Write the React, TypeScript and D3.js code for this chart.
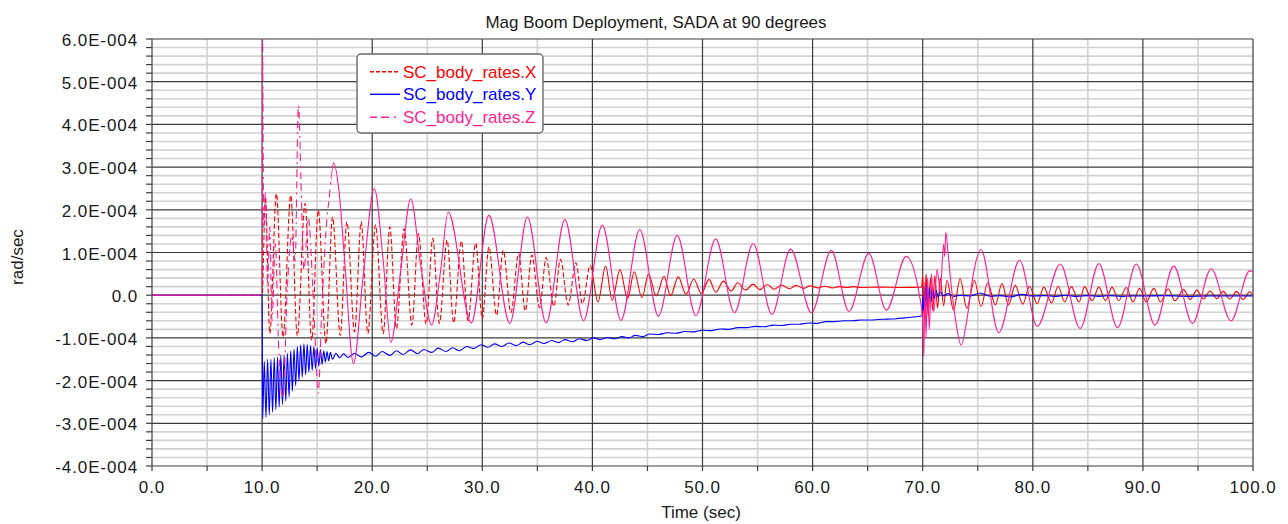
import React from 'react';
import * as d3 from 'd3';

// ---- text ----
const chartTitle = 'Mag Boom Deployment, SADA at 90 degrees';
const xAxisLabel = 'Time (sec)';
const yAxisLabel = 'rad/sec';
const seriesNames = ['SC_body_rates.X', 'SC_body_rates.Y', 'SC_body_rates.Z'];
const seriesColors = ['#ff0000', '#0000ff', '#ff1e96'];

// ---- ticks (y values are in units of 1E-004 rad/sec) ----
const xTicks = [0, 10, 20, 30, 40, 50, 60, 70, 80, 90, 100];
const yTicks = [-4, -3, -2, -1, 0, 1, 2, 3, 4, 5, 6];

// ---- data: [time (sec), rate (1E-004 rad/sec)] ----
const xRates: [number, number][] = [
  [0, 0], [10.0, 0], [10.3, 2.3], [10.7, -0.9], [11.3, 2.38], [11.9, -0.98], [12.6, 2.34], [13.2, -0.95],
  [13.9, 2.15], [14.5, -1.05], [15.1, 1.99], [15.8, -1.13], [16.4, 1.83], [17.1, -0.94], [17.7, 1.72],
  [18.4, -0.86], [19.0, 1.72], [19.6, -0.9], [20.3, 1.64], [21.0, -0.9], [21.6, 1.6], [22.2, -0.78],
  [22.9, 1.56], [23.6, -0.7], [24.2, 1.44], [24.9, -0.68], [25.5, 1.33], [26.1, -0.66], [26.8, 1.29],
  [27.4, -0.65], [28.1, 1.27], [28.7, -0.6], [29.4, 1.22], [30.0, -0.55], [30.6, 1.13], [31.3, -0.47],
  [31.9, 1.05], [32.6, -0.41], [33.3, 0.98], [33.9, -0.37], [34.5, 0.94], [35.2, -0.29], [35.8, 0.88],
  [36.5, -0.26], [37.1, 0.84], [37.8, -0.23], [38.5, 0.76], [39.1, -0.2], [39.8, 0.7], [40.5, -0.16],
  [41.2, 0.68], [41.8, -0.12], [42.5, 0.6], [43.2, -0.08], [43.8, 0.55], [44.5, -0.06], [45.1, 0.49],
  [45.8, -0.02], [46.5, 0.44], [47.1, -0.01], [47.8, 0.43], [48.5, 0.02], [49.2, 0.38], [49.9, 0.04],
  [50.6, 0.37], [51.2, 0.07], [51.9, 0.33], [52.6, 0.1], [53.2, 0.29], [53.9, 0.12], [54.6, 0.26],
  [55.2, 0.13], [55.9, 0.25], [56.5, 0.14], [57.2, 0.24], [57.9, 0.15], [58.5, 0.23], [59.2, 0.16],
  [59.8, 0.22], [60.5, 0.17], [61.1, 0.21], [61.8, 0.17], [62.4, 0.2], [63.1, 0.18], [63.7, 0.2],
  [64.4, 0.18], [66.0, 0.19], [68.0, 0.18], [69.9, 0.19],
  [70.0, 0.45], [70.15, -0.6], [70.3, 0.5], [70.5, -0.5], [70.7, 0.4], [70.9, -0.35], [71.1, 0.45],
  [71.35, -0.3], [71.6, 0.4], [71.9, -0.25], [72.2, 0.35], [72.8, -0.35], [73.4, 0.39], [74.0, -0.31],
  [74.7, 0.35], [75.3, -0.27], [75.9, 0.29], [76.6, -0.23], [77.2, 0.27], [77.8, -0.23], [78.4, 0.23],
  [79.1, -0.21], [79.7, 0.21], [80.4, -0.2], [81.0, 0.19], [81.7, -0.18], [82.3, 0.21], [82.9, -0.16],
  [83.5, 0.2], [84.2, -0.16], [84.7, 0.2], [85.4, -0.13], [86.0, 0.19], [86.6, -0.13], [87.2, 0.19],
  [87.8, -0.13], [88.5, 0.18], [89.1, -0.16], [89.7, 0.16], [90.3, -0.16], [91.0, 0.16], [91.6, -0.16],
  [92.3, 0.15], [92.9, -0.13], [93.7, 0.13], [94.3, -0.1], [94.9, 0.12], [95.5, -0.09], [96.1, 0.1],
  [96.7, -0.08], [97.3, 0.09], [97.9, -0.09], [98.5, 0.09], [99.1, -0.1], [99.7, 0.08], [100, 0.0],
];

const yRates: [number, number][] = [
  [0, 0], [10.0, 0], [10.05, -2.9], [10.2, -1.55], [10.35, -2.86], [10.5, -1.5], [10.65, -2.8], [10.8, -1.5],
  [10.95, -2.74], [11.1, -1.46], [11.25, -2.68], [11.4, -1.45], [11.55, -2.62], [11.7, -1.4], [11.85, -2.56],
  [12.0, -1.4], [12.15, -2.48], [12.3, -1.36], [12.45, -2.38], [12.6, -1.3], [12.75, -2.25], [12.9, -1.26],
  [13.05, -2.12], [13.2, -1.2], [13.35, -2.0], [13.5, -1.16], [13.65, -1.92], [13.8, -1.14], [13.95, -1.86],
  [14.1, -1.15], [14.25, -1.8], [14.4, -1.18], [14.55, -1.76], [14.7, -1.2], [14.85, -1.72], [15.0, -1.24],
  [15.15, -1.66], [15.3, -1.27], [15.45, -1.62], [15.6, -1.3], [15.75, -1.57], [15.9, -1.32], [16.05, -1.54],
  [16.2, -1.34], [16.4, -1.5], [16.7, -1.36], [17.05, -1.47], [17.4, -1.37], [17.8, -1.46],
  [18.4, -1.36], [19.0, -1.45], [19.7, -1.34], [20.3, -1.43], [20.9, -1.32], [21.6, -1.41], [22.2, -1.3],
  [22.8, -1.39], [23.5, -1.28], [24.1, -1.37], [24.7, -1.27], [25.4, -1.34], [26.0, -1.24], [26.7, -1.32],
  [27.3, -1.23], [27.9, -1.3], [28.6, -1.2], [29.2, -1.25], [29.9, -1.16], [30.5, -1.22], [31.1, -1.14],
  [31.8, -1.2], [32.4, -1.12], [33.1, -1.18], [33.7, -1.1], [34.3, -1.16], [35.0, -1.08], [35.6, -1.13],
  [36.3, -1.06], [36.9, -1.11], [37.5, -1.04], [38.2, -1.09], [38.8, -1.02], [39.5, -1.06], [40.1, -1.0],
  [40.7, -1.04], [41.4, -0.99], [42.0, -1.02], [42.7, -0.97], [43.3, -1.0], [43.9, -0.94], [44.6, -0.97],
  [45.2, -0.91], [46.0, -0.92], [46.8, -0.88], [47.6, -0.89], [48.4, -0.85], [49.2, -0.86], [50.0, -0.82],
  [50.8, -0.83], [51.6, -0.79], [52.4, -0.8], [53.2, -0.76], [54.0, -0.76], [54.8, -0.73], [55.6, -0.74],
  [56.4, -0.7], [57.2, -0.71], [58.0, -0.68], [58.8, -0.68], [59.6, -0.65], [60.4, -0.66], [61.2, -0.62],
  [62.0, -0.62], [62.8, -0.6], [63.6, -0.6], [64.4, -0.58], [65.2, -0.58], [66.0, -0.57], [66.8, -0.56],
  [67.6, -0.55], [68.4, -0.53], [69.2, -0.51], [69.95, -0.48],
  [70.0, -0.05], [70.1, -0.35], [70.2, 0.2], [70.3, -0.28], [70.4, 0.25], [70.5, -0.2], [70.6, 0.18],
  [70.75, -0.15], [70.9, 0.15], [71.05, -0.08], [71.2, 0.12], [71.4, -0.05], [71.6, 0.08], [71.9, -0.02],
  [72.3, 0.04], [72.8, -0.03], [73.5, 0.0], [74.3, -0.02], [75.2, 0.05], [76.2, -0.03], [77.0, -0.01],
  [78.0, -0.04], [79.0, 0.02], [80.0, -0.02], [81.0, -0.01], [82.0, -0.03], [83.0, 0.0], [84.0, -0.03],
  [85.0, -0.01], [86.0, -0.03], [87.0, -0.01], [88.0, -0.03], [89.0, -0.02], [90.0, -0.02], [92.0, -0.01],
  [94.0, -0.03], [96.0, -0.02], [98.0, -0.02], [100, -0.02],
];

const zRates: [number, number][] = [
  [0, 0], [9.98, 0], [10.04, 6.0], [10.15, 1.6], [10.3, 2.4], [10.5, 0.3], [10.7, 1.6], [10.9, -0.6],
  [11.2, 1.2], [11.5, -1.2], [11.9, -2.4], [12.3, 0.2], [12.7, 1.4], [13.0, 0.8], [13.3, 4.45], [13.55, 2.5],
  [13.8, 0.6], [14.2, 1.8], [14.6, 0.2], [14.85, -1.2], [15.1, -2.3], [15.4, -0.5], [15.8, 1.5], [16.1, 2.3],
  [16.5, 3.1], [17.0, 2.4], [17.5, 0.8], [18.3, -1.6], [19.2, 0.5], [20.2, 2.5], [21.0, 0.8], [21.7, -1.1],
  [22.6, 0.6], [23.5, 2.26], [24.4, 0.7], [25.4, -0.7], [26.2, 0.55], [26.9, 1.95], [29.0, -0.65],
  [30.6, 1.87], [32.5, -0.66], [34.1, 1.83], [35.8, -0.65], [37.5, 1.77], [39.2, -0.6], [40.9, 1.64],
  [42.6, -0.59], [44.3, 1.54], [46.0, -0.49], [47.7, 1.4], [49.4, -0.48], [51.2, 1.32], [52.9, -0.41],
  [54.6, 1.21], [56.3, -0.45], [58.0, 1.08], [59.9, -0.41], [61.7, 1.05], [63.3, -0.38], [65.1, 0.98],
  [66.7, -0.35], [68.5, 0.91], [69.7, 0.0], [70.0, -0.6], [70.1, -1.44], [70.2, 0.3], [70.3, -1.0],
  [70.45, 0.4], [70.6, -0.8], [70.8, 0.5], [71.0, -0.4], [71.3, 0.6], [71.6, 0.1], [71.9, 1.2], [72.0, 0.9],
  [72.1, 1.48], [72.3, 1.0], [72.6, 0.2], [73.0, -0.6], [73.5, -1.17], [74.0, -0.6], [74.6, 0.5],
  [75.3, 1.07], [76.9, -0.88], [78.8, 0.82], [80.4, -0.73], [82.5, 0.73], [84.3, -0.78], [86.0, 0.74],
  [87.7, -0.76], [89.4, 0.73], [91.1, -0.7], [92.8, 0.68], [94.5, -0.66], [96.2, 0.62], [98.0, -0.6],
  [99.7, 0.57], [100, 0.55],
];

const FONT = "'Liberation Sans', Arial, Helvetica, sans-serif";

export default function App() {
  const W = 1288;
  const H = 524;
  const left = 152, right = 1253, top = 39, bottom = 466;

  const x = d3.scaleLinear().domain([0, 100]).range([left, right]);
  const y = d3.scaleLinear().domain([-4, 6]).range([bottom, top]);
  const line = d3
    .line<[number, number]>()
    .x((d) => x(d[0]))
    .y((d) => y(d[1]))
    .curve(d3.curveMonotoneX);

  const yMinor = d3.range(-4, 6.0001, 0.2).filter((v) => Math.abs(v - Math.round(v)) > 1e-6);
  const xMinor = d3.range(5, 100, 10);
  const yAllTicks = d3.range(-4, 6.0001, 0.2);
  const xAllTicks = d3.range(0, 100.001, 5);

  const fmtY = (v: number) => (v === 0 ? '0.0' : `${v.toFixed(1)}E-004`);
  const fmtX = (v: number) => v.toFixed(1);

  const xPath = line(xRates) || '';
  const yPath = line(yRates) || '';
  const zPath = line(zRates) || '';

  const xDashEnd = x(40);
  const zDashStart = x(10) - 1;
  const zDashEnd = x(16.3);

  const legendX = 357, legendY = 54, legendW = 186, legendH = 79;
  const legendRows = [71.7, 94.3, 117.3];
  const legendDash = ['4 2', '', '7 4 8 5 2 4'];

  return (
    <svg
      width={W}
      height={H}
      viewBox={`0 0 ${W} ${H}`}
      style={{ position: 'absolute', left: 0, top: 0, background: '#fff' }}
      fontFamily={FONT}
    >
      <defs>
        <clipPath id="plotClip">
          <rect x={left} y={top} width={right - left} height={bottom - top} />
        </clipPath>
        <clipPath id="xDashClip">
          <rect x={left} y={top} width={xDashEnd - left} height={bottom - top} />
        </clipPath>
        <clipPath id="xSolidClip">
          <rect x={xDashEnd} y={top} width={right - xDashEnd} height={bottom - top} />
        </clipPath>
        <clipPath id="zDashClip">
          <rect x={zDashStart} y={top} width={zDashEnd - zDashStart} height={bottom - top} />
        </clipPath>
        <clipPath id="zSolidClip">
          <rect x={left} y={top} width={zDashStart - left} height={bottom - top} />
          <rect x={zDashEnd} y={top} width={right - zDashEnd} height={bottom - top} />
        </clipPath>
      </defs>

      <rect x={0} y={0} width={W} height={H} fill="#fff" />

      {/* minor grid */}
      {yMinor.map((v) => (
        <line key={`ym${v}`} x1={left} x2={right} y1={y(v)} y2={y(v)} stroke="#d2d2d2" strokeWidth={1.6} />
      ))}
      {xMinor.map((v) => (
        <line key={`xm${v}`} x1={x(v)} x2={x(v)} y1={top} y2={bottom} stroke="#d2d2d2" strokeWidth={1.6} />
      ))}
      {/* major grid */}
      {yTicks.map((v) => (
        <line key={`yM${v}`} x1={left} x2={right} y1={y(v)} y2={y(v)} stroke="#3c3c3c" strokeWidth={1.2} />
      ))}
      {xTicks.map((v) => (
        <line key={`xM${v}`} x1={x(v)} x2={x(v)} y1={top} y2={bottom} stroke="#3c3c3c" strokeWidth={1.2} />
      ))}

      {/* axis ticks */}
      {yAllTicks.map((v) => (
        <line key={`yt${v}`} x1={left - 6} x2={left} y1={y(v)} y2={y(v)} stroke="#3c3c3c" strokeWidth={1.2} />
      ))}
      {xAllTicks.map((v) => (
        <line key={`xt${v}`} x1={x(v)} x2={x(v)} y1={bottom} y2={bottom + 5} stroke="#3c3c3c" strokeWidth={1.2} />
      ))}

      {/* series */}
      <g clipPath="url(#plotClip)" fill="none" strokeWidth={1.1} strokeLinejoin="round">
        <path d={xPath} stroke={seriesColors[0]} strokeDasharray="5 2.5" clipPath="url(#xDashClip)" />
        <path d={xPath} stroke={seriesColors[0]} clipPath="url(#xSolidClip)" />
        <path d={yPath} stroke={seriesColors[1]} />
        <path d={zPath} stroke={seriesColors[2]} strokeDasharray="7 4 8 5 2 4" clipPath="url(#zDashClip)" />
        <path d={zPath} stroke={seriesColors[2]} clipPath="url(#zSolidClip)" />
      </g>

      {/* tick labels */}
      {yTicks.map((v) => (
        <text
          key={`yl${v}`}
          x={138}
          y={y(v) + 7}
          textAnchor="end"
          fontSize={17}
          letterSpacing={0.9}
          fill="#1a1a1a"
        >
          {fmtY(v)}
        </text>
      ))}
      {xTicks.map((v) => (
        <text
          key={`xl${v}`}
          x={x(v)}
          y={493}
          textAnchor="middle"
          fontSize={17}
          letterSpacing={0.9}
          fill="#1a1a1a"
        >
          {fmtX(v)}
        </text>
      ))}

      {/* axis titles */}
      <text x={701} y={517.5} textAnchor="middle" fontSize={17} fill="#1a1a1a">
        {xAxisLabel}
      </text>
      <text
        x={0}
        y={0}
        transform={`translate(23, 257) rotate(-90)`}
        textAnchor="middle"
        fontSize={17}
        fill="#1a1a1a"
      >
        {yAxisLabel}
      </text>

      {/* title */}
      <text x={656} y={28} textAnchor="middle" fontSize={17} fill="#1a1a1a">
        {chartTitle}
      </text>

      {/* legend */}
      <rect
        x={legendX}
        y={legendY}
        width={legendW}
        height={legendH}
        rx={4}
        fill="#fff"
        stroke="#6a6a6a"
        strokeWidth={1.4}
      />
      {seriesNames.map((name, i) => (
        <g key={name}>
          <line
            x1={370}
            x2={400}
            y1={legendRows[i]}
            y2={legendRows[i]}
            stroke={seriesColors[i]}
            strokeWidth={1.4}
            strokeDasharray={legendDash[i] || undefined}
          />
          <text x={403} y={legendRows[i] + 6} fontSize={17} fill={seriesColors[i]}>
            {name}
          </text>
        </g>
      ))}
    </svg>
  );
}
